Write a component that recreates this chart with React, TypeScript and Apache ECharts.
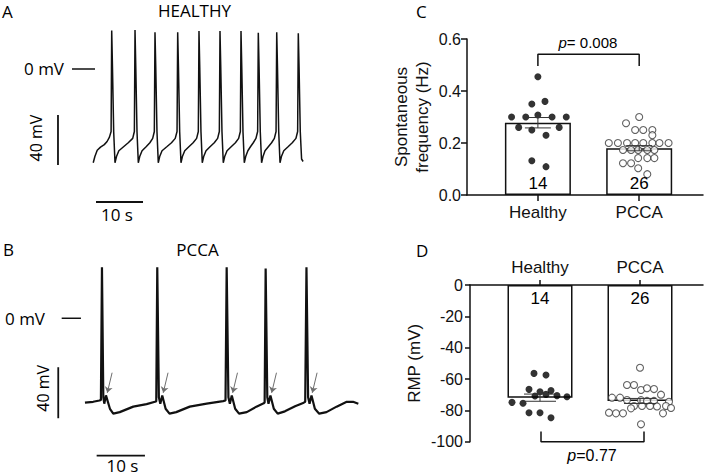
import React, { useEffect, useRef } from 'react';
import * as echarts from 'echarts';

// ---------- Data ----------
// Panel A: HEALTHY membrane potential trace [time (s), mV]
const traceHealthy: [number, number][] = [
  [0.05, -75], [0.4, -70], [0.9, -65], [1.6, -62.5], [2.4, -60.5], [3.0, -58], [3.5, -54.5], [3.85, -50], [3.98, 30.7], [4.15, 0], [4.4, -50], [4.68, -75],
  [5.0, -70], [5.5, -65.4], [6.5, -62.2], [7.5, -59], [8.45, -55.5], [8.8, -50], [8.94, 31.2], [9.11, 0], [9.36, -50], [9.64, -75],
  [9.94, -70], [10.44, -65.4], [11.3, -62.2], [12.1, -59], [12.7, -55.5], [13.05, -50], [13.19, 29.3], [13.36, 0], [13.61, -50], [13.89, -75],
  [14.19, -70], [14.69, -65.4], [15.7, -62.2], [16.7, -59], [17.5, -55.5], [17.88, -50], [18.02, 29.3], [18.19, 0], [18.44, -50], [18.72, -75],
  [19.02, -70], [19.52, -65.4], [20.4, -62.2], [21.3, -59], [22.05, -55.5], [22.41, -50], [22.55, 30.4], [22.72, 0], [22.97, -50], [23.25, -75],
  [23.55, -70], [24.05, -65.4], [24.9, -62.2], [25.8, -59], [26.52, -55.5], [26.88, -50], [27.02, 30.4], [27.19, 0], [27.44, -50], [27.72, -75],
  [28.02, -70], [28.52, -65.4], [29.4, -62.2], [30.3, -59], [30.99, -55.5], [31.35, -50], [31.49, 30.4], [31.66, 0], [31.91, -50], [32.19, -75],
  [32.49, -70], [32.95, -65.4], [33.5, -62.2], [34.1, -59], [34.67, -55.5], [35.03, -50], [35.17, 29], [35.34, 0], [35.59, -50], [35.87, -75],
  [36.17, -70], [36.6, -65.4], [37.3, -62.2], [38.0, -59], [38.59, -55.5], [38.95, -50], [39.09, 29.3], [39.26, 0], [39.51, -50], [39.79, -75],
  [40.09, -70], [40.59, -65.4], [41.5, -62.2], [42.4, -59], [43.18, -55.5], [43.54, -50], [43.68, 28.5], [43.85, 0], [44.1, -50], [44.38, -72], [44.7, -74],
];

// Panel B: PCCA membrane potential trace [time (s), mV]
const tracePCCA: [number, number][] = [
  [0, -66.2], [1.7, -65.5], [3.0, -64.5], [3.3, -64], [3.52, 40], [3.8, -62], [4.0, -67], [4.35, -60.5], [5.17, -71], [5.86, -74.8], [7.2, -73.6], [10.0, -69.3], [12.76, -67.3], [14.5, -65.5],
  [14.76, -65], [14.97, 40], [15.3, -62], [15.6, -67], [16.0, -60.5], [16.7, -71], [17.5, -74.8], [18.9, -73.6], [21.7, -69.3], [25.2, -67], [28.6, -65],
  [29.1, -64.5], [29.34, 40], [29.7, -62], [30.0, -67], [30.4, -60.5], [31.1, -71], [31.9, -74.8], [33.5, -73.6], [35.5, -69.3], [37.0, -66.7],
  [37.2, -66], [37.41, 39], [37.75, -62], [38.0, -67], [38.4, -60.5], [39.1, -71], [39.9, -74.8], [41.4, -73], [43.5, -69], [45.3, -66.2],
  [45.6, -65.5], [45.86, 40], [46.2, -62], [46.5, -67], [46.9, -60.5], [47.6, -71], [48.5, -74.8], [50.0, -73.6], [52.1, -69.3], [54.2, -65.5], [55.5, -65.5], [56.6, -67],
];
// times (s) at which the arrows in panel B point
const pccaArrowTimes = [4.62, 16.2, 30.58, 38.65, 47.06];

// Panels C & D
const groups = ['Healthy', 'PCCA'];
const nCells = [14, 26];

const freqMean = [0.278, 0.18];
const freqSem = [0.02, 0.01];
const freqHealthy = [0.455, 0.35, 0.36, 0.30, 0.30, 0.308, 0.30, 0.30, 0.26, 0.25, 0.23, 0.26, 0.132, 0.109];
const freqHealthyX = [1.0, 0.94, 1.07, 0.74, 0.88, 1.0, 1.14, 1.28, 0.81, 0.94, 1.08, 1.21, 0.94, 1.08];
const freqPCCA = [0.30, 0.276, 0.25, 0.25, 0.25, 0.23, 0.20, 0.20, 0.20, 0.20, 0.20, 0.20, 0.20, 0.20, 0.173, 0.173, 0.173, 0.173, 0.173, 0.142, 0.142, 0.142, 0.122, 0.122, 0.103, 0.08];
const freqPCCAX = [2.0, 1.87, 1.96, 2.04, 2.13, 2.13, 1.70, 1.79, 1.88, 1.96, 2.04, 2.13, 2.20, 2.29, 1.84, 1.92, 1.99, 2.08, 2.15, 1.99, 2.08, 2.15, 1.84, 1.92, 1.99, 2.08];
const freqP = '0.008';

const rmpMean = [-71.9, -74.0];
const rmpSem = [2.3, 1.6];
const rmpHealthy = [-56.4, -57.4, -66.6, -68.1, -67.4, -70.8, -69.8, -70.6, -71.3, -74.9, -75.5, -81.5, -81.5, -84.7];
const rmpHealthyX = [0.94, 1.06, 0.89, 1.0, 1.11, 0.95, 1.06, 1.17, 1.27, 0.72, 0.83, 0.89, 1.0, 1.11];
const rmpPCCA = [-52.8, -63.8, -63.8, -67, -65.9, -66.4, -70, -71.9, -71.9, -73.4, -73.5, -74, -74, -74.5, -77.2, -77.2, -77.2, -77.5, -78.7, -77.2, -78.5, -81.5, -81.9, -81.9, -81.9, -88.9];
const rmpPCCAX = [2.0, 1.87, 1.94, 2.01, 2.07, 2.14, 2.21, 1.72, 1.80, 1.87, 2.01, 2.07, 2.14, 2.29, 1.94, 2.02, 2.10, 2.17, 1.91, 2.26, 2.31, 1.69, 1.76, 1.83, 2.23, 2.01];
const rmpP = '0.77';

// ---------- Styling ----------
const INK = '#111111';
const PLOT_FONT = '"Liberation Sans", Arial, Helvetica, sans-serif';
const ANN_FONT = '"Open Sans", "Noto Sans", sans-serif';

function errorBarSeries(xi: number, yi: number, means: number[], sems: number[], capHalf: number) {
  return {
    type: 'custom',
    xAxisIndex: xi,
    yAxisIndex: yi,
    z: 6,
    silent: true,
    data: means.map((m, i) => [i + 1, m, sems[i]]),
    renderItem: (_params: any, api: any) => {
      const x = api.value(0);
      const m = api.value(1);
      const s = api.value(2);
      const hi = api.coord([x, m + s]);
      const lo = api.coord([x, m - s]);
      const st = { stroke: '#333', lineWidth: 1 };
      return {
        type: 'group',
        children: [
          { type: 'line', shape: { x1: hi[0], y1: hi[1], x2: lo[0], y2: lo[1] }, style: st },
          { type: 'line', shape: { x1: hi[0] - capHalf, y1: hi[1], x2: hi[0] + capHalf, y2: hi[1] }, style: st },
          { type: 'line', shape: { x1: lo[0] - capHalf, y1: lo[1], x2: lo[0] + capHalf, y2: lo[1] }, style: st },
        ],
      };
    },
  };
}

function segment(xi: number, yi: number, pts: [number, number][], width: number) {
  return {
    type: 'line',
    xAxisIndex: xi,
    yAxisIndex: yi,
    data: pts,
    symbol: 'none',
    showSymbol: false,
    clip: false,
    silent: true,
    lineStyle: { color: INK, width },
  };
}

// text anchored at a data position, drawn by a custom series so its colour is exact
function textPoint(xi: number, yi: number, pt: [number, number], parts: { t: string; italic?: boolean }[], size: number) {
  return {
    type: 'custom',
    xAxisIndex: xi,
    yAxisIndex: yi,
    data: [pt],
    clip: false,
    silent: true,
    z: 7,
    renderItem: (_params: any, api: any) => {
      const c = api.coord([api.value(0), api.value(1)]);
      const rich: any = { n: { fontStyle: 'normal' }, i: { fontStyle: 'italic' } };
      Object.keys(rich).forEach((k) => {
        rich[k].fontSize = size;
        rich[k].fontFamily = PLOT_FONT;
        rich[k].fill = '#000';
        rich[k].color = '#000';
      });
      return {
        type: 'text',
        x: c[0],
        y: c[1],
        style: {
          text: parts.map((p) => `{${p.italic ? 'i' : 'n'}|${p.t}}`).join(''),
          rich,
          fill: '#000',
          fontSize: size,
          fontFamily: PLOT_FONT,
          align: 'center',
          verticalAlign: 'middle',
        },
      };
    },
  };
}

function buildOption() {
  const hiddenValue = (min: number, max: number, gi: number) => ({
    type: 'value', gridIndex: gi, min, max, show: false, splitLine: { show: false },
  });

  const axisLineStyle = { color: INK, width: 1.5 };

  const ann = (text: string, x: number, y: number, size: number, rotation = 0, align = 'center') => ({
    type: 'text',
    x,
    y,
    rotation,
    silent: true,
    style: { text, fill: '#000', fontSize: size, fontFamily: ANN_FONT, align, verticalAlign: 'middle' },
  });

  return {
    animation: false,
    backgroundColor: '#ffffff',
    grid: [
      { left: 36.6, top: 19, width: 277.3, height: 193.75 },
      { left: 27, top: 260.9, width: 338.1, height: 204 },
      { left: 467, top: 39, width: 236, height: 156 },
      { left: 470, top: 285, width: 233, height: 156.7 },
    ],
    xAxis: [
      hiddenValue(-12, 47, 0),
      hiddenValue(-12, 58, 1),
      {
        type: 'value', gridIndex: 2, min: 0.3, max: 2.63, splitLine: { show: false },
        axisLine: { show: true, lineStyle: axisLineStyle },
        axisTick: { show: true, customValues: [1, 2], length: 6, lineStyle: axisLineStyle },
        axisLabel: {
          customValues: [1, 2], formatter: (v: number) => groups[Math.round(v) - 1] ?? '',
          fontSize: 17, color: INK, fontFamily: PLOT_FONT, margin: 9,
        },
      },
      {
        type: 'value', gridIndex: 3, position: 'top', min: 0.3, max: 2.63, splitLine: { show: false },
        axisLine: { show: true, onZero: false, lineStyle: axisLineStyle },
        axisTick: { show: true, customValues: [1, 2], length: 5, lineStyle: axisLineStyle },
        axisLabel: {
          customValues: [1, 2], formatter: (v: number) => groups[Math.round(v) - 1] ?? '',
          fontSize: 17, color: INK, fontFamily: PLOT_FONT, margin: 9,
        },
      },
    ],
    yAxis: [
      hiddenValue(-115, 40, 0),
      hiddenValue(-115, 45, 1),
      {
        type: 'value', gridIndex: 2, min: 0, max: 0.6, interval: 0.2, splitLine: { show: false },
        axisLine: { show: true, lineStyle: axisLineStyle },
        axisTick: { show: true, length: 6, lineStyle: axisLineStyle },
        axisLabel: { formatter: (v: number) => v.toFixed(1), fontSize: 16, color: INK, fontFamily: PLOT_FONT, margin: 6 },
        name: 'Spontaneous\nfrequency (Hz)',
        nameLocation: 'middle',
        nameGap: 34,
        nameTextStyle: { fontSize: 17, color: INK, fontFamily: PLOT_FONT, lineHeight: 21 },
      },
      {
        type: 'value', gridIndex: 3, min: -100, max: 0, interval: 20, splitLine: { show: false },
        axisLine: { show: true, lineStyle: axisLineStyle },
        axisTick: { show: true, length: 5, lineStyle: axisLineStyle },
        axisLabel: { fontSize: 16, color: INK, fontFamily: PLOT_FONT, margin: 7 },
        name: 'RMP (mV)',
        nameLocation: 'middle',
        nameGap: 47,
        nameTextStyle: { fontSize: 17, color: INK, fontFamily: PLOT_FONT },
      },
    ],
    series: [
      // ---- Panel A ----
      segment(0, 0, traceHealthy, 1.5),
      segment(0, 0, [[-4.47, 0], [0.43, 0]], 1.5),
      segment(0, 0, [[-7.45, -76.8], [-7.45, -36.8]], 1.8),
      segment(0, 0, [[0.64, -106.4], [10.64, -106.4]], 1.8),
      // ---- Panel B ----
      segment(1, 1, tracePCCA, 2.2),
      segment(1, 1, [[-4.82, 0], [-0.83, 0]], 1.5),
      segment(1, 1, [[-5.53, -78.4], [-5.53, -38.4]], 1.8),
      segment(1, 1, [[2.42, -107.8], [12.42, -107.8]], 1.8),
      {
        type: 'lines',
        coordinateSystem: 'cartesian2d',
        xAxisIndex: 1,
        yAxisIndex: 1,
        silent: true,
        symbol: ['none', 'arrow'],
        symbolSize: 6,
        lineStyle: { color: '#6e6e6e', width: 1, opacity: 1 },
        data: pccaArrowTimes.map((t) => ({ coords: [[t + 1.0, -42.7], [t, -58.5]] })),
      },
      // ---- Panel C ----
      {
        type: 'bar', xAxisIndex: 2, yAxisIndex: 2, barWidth: 66, silent: true,
        data: freqMean.map((m, i) => [i + 1, m]),
        itemStyle: { color: '#ffffff', borderColor: INK, borderWidth: 1.5 },
      },
      {
        type: 'scatter', xAxisIndex: 2, yAxisIndex: 2, symbol: 'circle', symbolSize: 7, z: 4, silent: true,
        data: freqHealthy.map((v, i) => [freqHealthyX[i], v]),
        itemStyle: { color: '#000000' },
      },
      {
        type: 'scatter', xAxisIndex: 2, yAxisIndex: 2, symbol: 'circle', symbolSize: 7, z: 4, silent: true,
        data: freqPCCA.map((v, i) => [freqPCCAX[i], v]),
        itemStyle: { color: '#ffffff', borderColor: '#3a3a3a', borderWidth: 1.1 },
      },
      errorBarSeries(2, 2, freqMean, freqSem, 13),
      segment(2, 2, [[1, 0.496], [1, 0.541], [2, 0.541], [2, 0.496]], 1.5),
      textPoint(2, 2, [1.494, 0.585], [{ t: 'p', italic: true }, { t: `= ${freqP}` }], 15),
      textPoint(2, 2, [1, 0.046], [{ t: String(nCells[0]) }], 17),
      textPoint(2, 2, [2, 0.046], [{ t: String(nCells[1]) }], 17),
      // ---- Panel D ----
      {
        type: 'bar', xAxisIndex: 3, yAxisIndex: 3, barWidth: 65, silent: true,
        data: rmpMean.map((m, i) => [i + 1, m]),
        itemStyle: { color: '#ffffff', borderColor: INK, borderWidth: 1.5 },
      },
      {
        type: 'scatter', xAxisIndex: 3, yAxisIndex: 3, symbol: 'circle', symbolSize: 7, z: 4, silent: true,
        data: rmpHealthy.map((v, i) => [rmpHealthyX[i], v]),
        itemStyle: { color: '#000000' },
      },
      {
        type: 'scatter', xAxisIndex: 3, yAxisIndex: 3, symbol: 'circle', symbolSize: 7, z: 4, silent: true,
        data: rmpPCCA.map((v, i) => [rmpPCCAX[i], v]),
        itemStyle: { color: '#ffffff', borderColor: '#3a3a3a', borderWidth: 1.1 },
      },
      errorBarSeries(3, 3, rmpMean, rmpSem, 16),
      segment(3, 3, [[1.01, -93.5], [1.01, -100], [2.04, -100], [2.04, -93.5]], 1.5),
      textPoint(3, 3, [1.52, -108.5], [{ t: 'p', italic: true }, { t: `=${rmpP}` }], 16),
      textPoint(3, 3, [1, -8.5], [{ t: String(nCells[0]) }], 17),
      textPoint(3, 3, [2, -8.5], [{ t: String(nCells[1]) }], 17),
    ],
    graphic: [
      ann('A', 2, 11, 17, 0, 'left'),
      ann('HEALTHY', 194.5, 10, 17),
      ann('0 mV', 24, 68, 17, 0, 'left'),
      ann('40 mV', 35.5, 138, 16, Math.PI / 2),
      ann('10 s', 117, 214, 17),
      ann('B', 3, 249, 17, 0, 'left'),
      ann('PCCA', 197.5, 249, 17),
      ann('0 mV', 5, 318.7, 17, 0, 'left'),
      ann('40 mV', 43, 388.3, 16, Math.PI / 2),
      ann('10 s', 122.5, 465.5, 17),
      ann('C', 416, 11.7, 17, 0, 'left'),
      ann('D', 416, 250.8, 17, 0, 'left'),
    ],
  };
}

export default function App() {
  const ref = useRef<HTMLDivElement>(null);
  useEffect(() => {
    if (!ref.current) return;
    const chart = echarts.init(ref.current, null, { renderer: 'svg' });
    chart.setOption(buildOption() as any);
    return () => chart.dispose();
  }, []);
  return (
    <div
      ref={ref}
      style={{ position: 'fixed', left: 0, top: 0, width: 709, height: 476, background: '#ffffff' }}
    />
  );
}
